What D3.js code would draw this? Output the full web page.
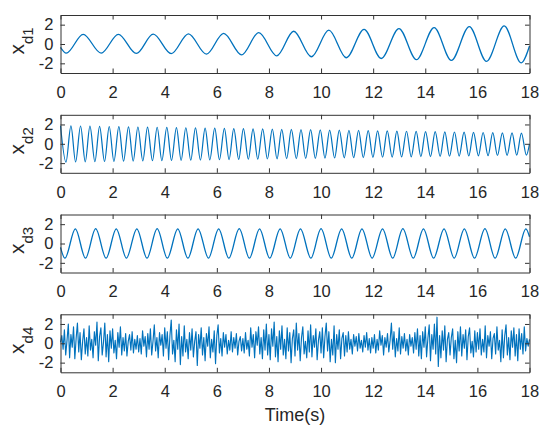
<!DOCTYPE html>
<html>
<head>
<meta charset="utf-8">
<script src="https://cdn.jsdelivr.net/npm/d3@7"></script>
<style>
  body { margin: 0; background: #fff; }
  .tick text { font-family: "Liberation Sans", Arial, sans-serif; font-size: 16.5px; fill: #262626; }
  .label { font-family: "Liberation Sans", Arial, sans-serif; fill: #262626; }
</style>
</head>
<body>
<div id="chart"></div>
<script>
// tick labels
var timeTicks = [0, 2, 4, 6, 8, 10, 12, 14, 16, 18];
var valueTicks = [-2, 0, 2];
var panelNames = ["d1", "d2", "d3", "d4"];

// x_d1 : slow sine, amplitude growing (extrema)
var d1Time = [0, 0.22, 0.87, 1.56, 2.22, 2.91, 3.56, 4.25, 4.91, 5.60, 6.26, 6.95, 7.61, 8.30,
  8.95, 9.63, 10.30, 10.97, 11.65, 12.31, 12.99, 13.66, 14.34, 15.00, 15.69, 16.35, 17.03, 17.68, 18];
var d1Value = [-0.35, -0.95, 1.0, -0.95, 1.0, -0.98, 1.02, -1.0, 1.05, -1.05, 1.1, -1.12, 1.18, -1.22,
  1.32, -1.32, 1.43, -1.42, 1.52, -1.5, 1.6, -1.62, 1.7, -1.7, 1.8, -1.8, 1.87, -1.95, -0.2];

// x_d2 : fast sine, amplitude shrinking
var d2Time = [0, 0.21, 0.40, 0.58, 0.77, 0.95, 1.13, 1.32, 1.50, 1.69,
  1.87, 2.05, 2.24, 2.42, 2.61, 2.79, 2.97, 3.16, 3.34, 3.53,
  3.71, 3.89, 4.08, 4.26, 4.45, 4.63, 4.81, 5.00, 5.18, 5.37,
  5.55, 5.73, 5.92, 6.10, 6.29, 6.47, 6.65, 6.84, 7.02, 7.21,
  7.39, 7.57, 7.76, 7.94, 8.13, 8.31, 8.49, 8.68, 8.86, 9.05,
  9.23, 9.41, 9.60, 9.78, 9.97, 10.15, 10.33, 10.52, 10.70, 10.89,
  11.07, 11.25, 11.44, 11.62, 11.81, 11.99, 12.17, 12.36, 12.54, 12.73,
  12.91, 13.09, 13.28, 13.46, 13.65, 13.83, 14.01, 14.20, 14.38, 14.57,
  14.75, 14.93, 15.12, 15.30, 15.49, 15.67, 15.85, 16.04, 16.22, 16.41,
  16.59, 16.77, 16.96, 17.14, 17.33, 17.51, 17.69, 17.88, 18];
var d2Value = [1.87, -1.90, 1.85, -1.88, 1.84, -1.86, 1.82, -1.85, 1.81, -1.83,
  1.79, -1.82, 1.78, -1.80, 1.76, -1.79, 1.74, -1.77, 1.73, -1.75,
  1.71, -1.74, 1.70, -1.72, 1.68, -1.71, 1.66, -1.69, 1.65, -1.68,
  1.63, -1.66, 1.62, -1.65, 1.60, -1.63, 1.58, -1.62, 1.57, -1.60,
  1.55, -1.59, 1.54, -1.57, 1.52, -1.56, 1.50, -1.54, 1.49, -1.53,
  1.47, -1.51, 1.46, -1.50, 1.44, -1.48, 1.42, -1.47, 1.41, -1.45,
  1.39, -1.44, 1.38, -1.42, 1.36, -1.41, 1.34, -1.39, 1.33, -1.38,
  1.31, -1.36, 1.30, -1.35, 1.28, -1.33, 1.26, -1.32, 1.25, -1.30,
  1.23, -1.29, 1.22, -1.27, 1.20, -1.26, 1.18, -1.24, 1.17, -1.23,
  1.15, -1.21, 1.14, -1.20, 1.12, -1.18, 1.10, -1.17, 0.0];

// x_d3 : medium sine, constant amplitude
var d3Time = [0, 0.17, 0.57, 0.96, 1.35, 1.75, 2.14, 2.53, 2.93, 3.32, 3.71, 4.10, 4.50, 4.89,
  5.28, 5.68, 6.07, 6.46, 6.86, 7.25, 7.64, 8.03, 8.43, 8.82, 9.21, 9.61, 10.00, 10.39,
  10.79, 11.18, 11.57, 11.96, 12.36, 12.75, 13.14, 13.54, 13.93, 14.32, 14.72, 15.11,
  15.50, 15.89, 16.29, 16.68, 17.07, 17.47, 17.86, 18];
var d3Value = [-0.4, -1.52, 1.52, -1.52, 1.53, -1.52, 1.52, -1.51, 1.52, -1.52, 1.53, -1.52, 1.52, -1.52,
  1.52, -1.51, 1.52, -1.52, 1.53, -1.52, 1.52, -1.52, 1.52, -1.51, 1.52, -1.52, 1.53, -1.52,
  1.52, -1.52, 1.52, -1.51, 1.52, -1.52, 1.53, -1.52, 1.52, -1.52, 1.52, -1.51,
  1.52, -1.52, 1.53, -1.52, 1.52, -1.52, 1.52, 0.7];

// x_d4 : noise, one value every 0.05 s (one row per second)
var d4Step = 0.05;
var d4Value = [
  0.1, 0.8, -0.6, 1.4, -1.2, 0.3, 2.0, -1.5, 0.9, -0.4, 1.7, -1.6, 0.5, 2.1, -0.9, 1.1, -1.7, 0.2, 1.5, -1.1,
  0.6, -1.3, 1.8, -0.7, 0.4, -1.5, 1.2, -0.2, 2.2, -1.8, 0.7, 1.6, -1.2, 0.1, 2.1, -1.4, 0.9, -1.9, 1.3, -0.5,
  1.5, -1.0, 0.3, -1.6, 1.1, -0.4, 1.7, -1.2, 0.6, -0.8, 1.0, -1.3, 0.2, 0.9, -0.7, 1.2, -1.0, 0.4, -0.6, 0.8,
  -0.9, 0.5, -1.1, 1.3, -0.3, 0.7, -1.4, 1.0, -0.6, 1.5, -1.2, 0.2, 1.9, -0.8, 0.6, -1.5, 1.1, -0.2, 0.9, -1.3,
  1.6, -0.5, 1.2, -1.7, 0.8, 2.4, -1.1, 0.3, -1.9, 1.4, -0.6, 2.0, -2.2, 0.7, -1.3, 1.8, -0.9, 0.4, -1.6, 1.1,
  -0.7, 1.5, -1.4, 0.2, 1.2, -2.3, 0.9, -0.5, 1.6, -1.2, 0.6, -1.8, 1.0, -0.3, 1.7, -1.5, 0.4, -0.9, 1.3, -2.1,
  0.8, 1.9, -1.0, 0.5, -1.3, 1.1, -0.4, 0.9, -1.1, 0.3, -0.7, 1.2, -0.9, 0.6, -0.5, 1.0, -1.2, 0.2, 0.7, -0.8,
  0.5, -1.0, 1.1, -0.6, 0.3, -1.3, 1.6, -0.4, 0.9, -1.5, 1.2, -0.2, 1.7, -1.1, 0.6, -1.6, 1.4, -0.7, 2.0, -1.2,
  0.9, -1.7, 1.5, -0.3, 2.2, -1.4, 0.7, -1.9, 1.3, -0.6, 1.8, -1.2, 0.4, -1.6, 1.6, -0.8, 1.1, -2.0, 0.5, 1.4,
  -1.3, 2.1, -0.7, 1.0, -1.8, 0.6, 1.7, -1.1, 0.2, -1.5, 1.3, -0.9, 1.9, -1.4, 0.8, -0.4, 1.5, -1.7, 0.3, 1.2,
  -1.0, 1.6, -1.5, 0.7, 2.1, -0.8, 1.2, -1.9, 0.4, -1.2, 1.8, -2.0, 0.9, -0.6, 1.4, -1.6, 0.5, 1.1, -1.3, 0.8,
  -0.9, 1.2, -0.6, 0.4, -1.1, 0.9, -0.3, 0.7, -0.8, 1.0, -0.5, 0.3, -0.9, 0.8, -0.4, 1.1, -0.7, 0.5, -1.0, 0.6,
  -0.5, 0.9, -1.0, 0.4, -0.7, 1.3, -0.2, 0.8, -1.2, 0.6, -0.4, 1.0, -0.9, 0.3, 2.1, -0.6, 1.2, -1.4, 0.5, -0.8,
  1.6, -1.1, 0.7, -0.5, 1.0, -0.8, 0.4, -1.2, 0.9, -0.3, 0.6, -1.0, 1.1, -0.6, 1.5, -1.3, 0.8, -1.6, 1.2, -0.4,
  1.7, -1.4, 0.5, 1.9, -1.8, 0.9, -0.6, 2.0, -1.1, 2.7, -2.4, 0.8, -1.5, 1.3, -0.7, 1.8, -1.9, 0.4, 1.1, -1.2,
  0.6, 1.5, -1.6, 0.3, -2.0, 1.2, -0.8, 1.7, -1.3, 0.9, -0.5, 1.4, -1.7, 0.7, 1.6, -1.0, 0.2, -1.4, 1.3, -0.9,
  1.1, -0.6, 1.5, -1.2, 0.4, -0.9, 1.8, -1.5, 0.8, -0.3, 1.2, -1.6, 0.5, 1.0, -1.1, 1.7, -0.7, 0.3, -1.9, 1.4,
  -1.5, 0.8, 1.9, -1.2, 0.6, -1.7, 1.3, -0.4, 1.6, -1.3, 0.9, -1.8, 1.5, -0.6, 1.0, -1.1, 1.7, -0.8, 0.5, -0.3,
  0.4];
var d4Time = d4Value.map((v, i) => i * d4Step);

var svgWidth = 550;
var svgHeight = 432;
var plotLeft = 60.5;
var plotRight = 529.5;
var plotHeight = 58;
var panelTops = [15, 114.8, 214.5, 314.3];
var lineColor = "#0072BD";
var axisColor = "#333333";

var series = [
  { t: d1Time, v: d1Value, curve: d3.curveMonotoneX, w: 1.3 },
  { t: d2Time, v: d2Value, curve: d3.curveMonotoneX, w: 1.2 },
  { t: d3Time, v: d3Value, curve: d3.curveMonotoneX, w: 1.3 },
  { t: d4Time, v: d4Value, curve: d3.curveLinear, w: 1.15 }
];

var svg = d3.select("#chart")
  .append("svg")
  .attr("width", svgWidth)
  .attr("height", svgHeight);

var x = d3.scaleLinear().domain([0, 18]).range([plotLeft, plotRight]);

series.forEach(function(s, i) {
  var top = panelTops[i];
  var bottom = top + plotHeight;
  var y = d3.scaleLinear().domain([-3, 3]).range([bottom, top]);

  var pts = s.t.map((t, k) => [t, s.v[k]]);
  var line = d3.line()
    .x(d => x(d[0]))
    .y(d => y(d[1]))
    .curve(s.curve);

  svg.append("path")
    .datum(pts)
    .attr("d", line)
    .attr("fill", "none")
    .attr("stroke", lineColor)
    .attr("stroke-width", s.w)
    .attr("stroke-linejoin", "round");

  // bottom axis with labels, ticks pointing in
  svg.append("g")
    .attr("transform", `translate(0, ${bottom})`)
    .style("color", axisColor)
    .call(d3.axisBottom(x).tickValues(timeTicks).tickSizeInner(-4.5).tickSizeOuter(0)
      .tickPadding(13).tickFormat(d => String(d)));

  svg.append("g")
    .attr("transform", `translate(0, ${top})`)
    .style("color", axisColor)
    .call(d3.axisTop(x).tickValues(timeTicks).tickSizeInner(-4.5).tickSizeOuter(0).tickFormat(""));

  svg.append("g")
    .attr("transform", `translate(${plotLeft}, 0)`)
    .style("color", axisColor)
    .call(d3.axisLeft(y).tickValues(valueTicks).tickSizeInner(-4.5).tickSizeOuter(0)
      .tickPadding(7).tickFormat(d => String(d)));

  svg.append("g")
    .attr("transform", `translate(${plotRight}, 0)`)
    .style("color", axisColor)
    .call(d3.axisRight(y).tickValues(valueTicks).tickSizeInner(-4.5).tickSizeOuter(0).tickFormat(""));

  // y label: x with subscript
  var lab = svg.append("text")
    .attr("class", "label")
    .attr("text-anchor", "middle")
    .attr("transform", `translate(23.5, ${top + 26}) rotate(-90)`);
  lab.append("tspan").attr("font-size", "21px").text("x");
  lab.append("tspan").attr("font-size", "15px").attr("dy", 9).text(panelNames[i]);
});

svg.append("text")
  .attr("class", "label")
  .attr("text-anchor", "middle")
  .attr("x", (plotLeft + plotRight) / 2)
  .attr("y", 421)
  .attr("font-size", "18px")
  .text("Time(s)");
</script>
</body>
</html>
